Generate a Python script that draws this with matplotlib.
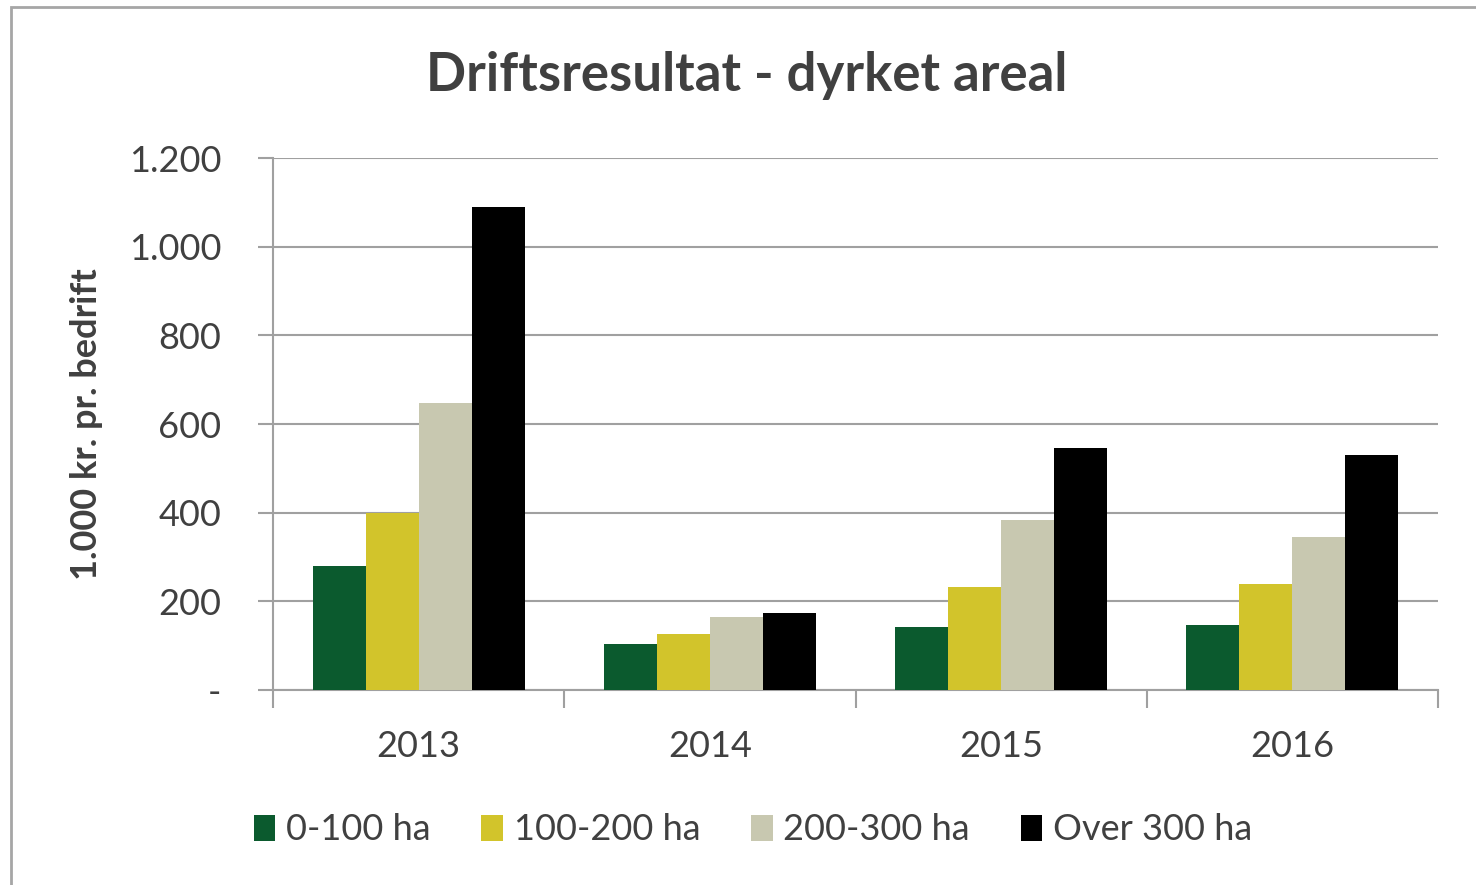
#!/usr/bin/env python3
# -*- coding: utf-8 -*-

import numpy as np
import matplotlib
matplotlib.use("Agg")
import matplotlib.pyplot as plt
from matplotlib.patches import Rectangle
from matplotlib.ticker import FuncFormatter

years = ["2013", "2014", "2015", "2016"]
series = ["0-100 ha", "100-200 ha", "200-300 ha", "Over 300 ha"]
ha_0_100 = [280, 104, 142, 147]
ha_100_200 = [399, 126, 232, 239]
ha_200_300 = [647, 165, 383, 345]
ha_over_300 = [1089, 174, 546, 530]
colors = ["#0B5A2E", "#D2C42B", "#C8C8B0", "#000000"]

plt.rcParams['font.family'] = ['Lato', 'DejaVu Sans']

fig = plt.figure(figsize=(14.76, 8.85), dpi=100)
W, H = 1476, 885

# outer chart frame (right/bottom edges fall outside the picture)
fig.patches.append(Rectangle((11 / W, -0.5), 1.5, 1.5 - 7 / H, transform=fig.transFigure,
                             fill=False, edgecolor="#A6A6A6", linewidth=2))

ax = fig.add_axes([273 / W, 1 - 690 / H, (1438 - 273) / W, (690 - 158) / H])

values = [ha_0_100, ha_100_200, ha_200_300, ha_over_300]
x = np.arange(len(years))
bw = 0.182
for i, (vals, name, c) in enumerate(zip(values, series, colors)):
    ax.bar(x + (i - 1.5) * bw, vals, bw, color=c, label=name, zorder=3)

ax.set_xlim(-0.5, len(years) - 0.5)
ax.set_ylim(0, 1200)
ax.set_yticks(np.arange(0, 1201, 200))
ax.yaxis.set_major_formatter(FuncFormatter(
    lambda v, p: "-" if v == 0 else f"{int(v):,}".replace(",", ".")))
ax.grid(axis="y", color="#A0A0A0", linewidth=1.5, zorder=0)

# category boundaries as x ticks, labels centred between them
ax.set_xticks(np.arange(-0.5, len(years)), minor=False)
ax.set_xticklabels([])
ax.set_xticks(x, minor=True)
ax.set_xticklabels(years, minor=True)
ax.tick_params(axis="x", which="major", length=13, width=1.5, color="#A0A0A0")
ax.tick_params(axis="x", which="minor", length=0, pad=29, labelsize=26, labelcolor="#404040")
ax.tick_params(axis="y", length=11, width=1.5, color="#A0A0A0", pad=26,
               labelsize=26, labelcolor="#404040")

for s in ["top", "right"]:
    ax.spines[s].set_visible(False)
for s in ["left", "bottom"]:
    ax.spines[s].set_color("#A0A0A0")
    ax.spines[s].set_linewidth(1.5)

ax.set_ylabel("1.000 kr. pr. bedrift", fontsize=26, fontweight="bold",
              color="#404040")
ax.yaxis.set_label_coords(-0.146, 0.5)

fig.text(747 / W, 1 - 75 / H, "Driftsresultat - dyrket areal", ha="center", va="center",
         fontsize=38, fontweight="bold", color="#404040")

fig.legend(loc="center", bbox_to_anchor=(753 / W, 1 - 830 / H), ncol=4, frameon=False,
           fontsize=26, labelcolor="#404040", handlelength=0.6, handleheight=0.7,
           handletextpad=0.3, columnspacing=1.4)

fig.savefig("out.png", dpi=100)
